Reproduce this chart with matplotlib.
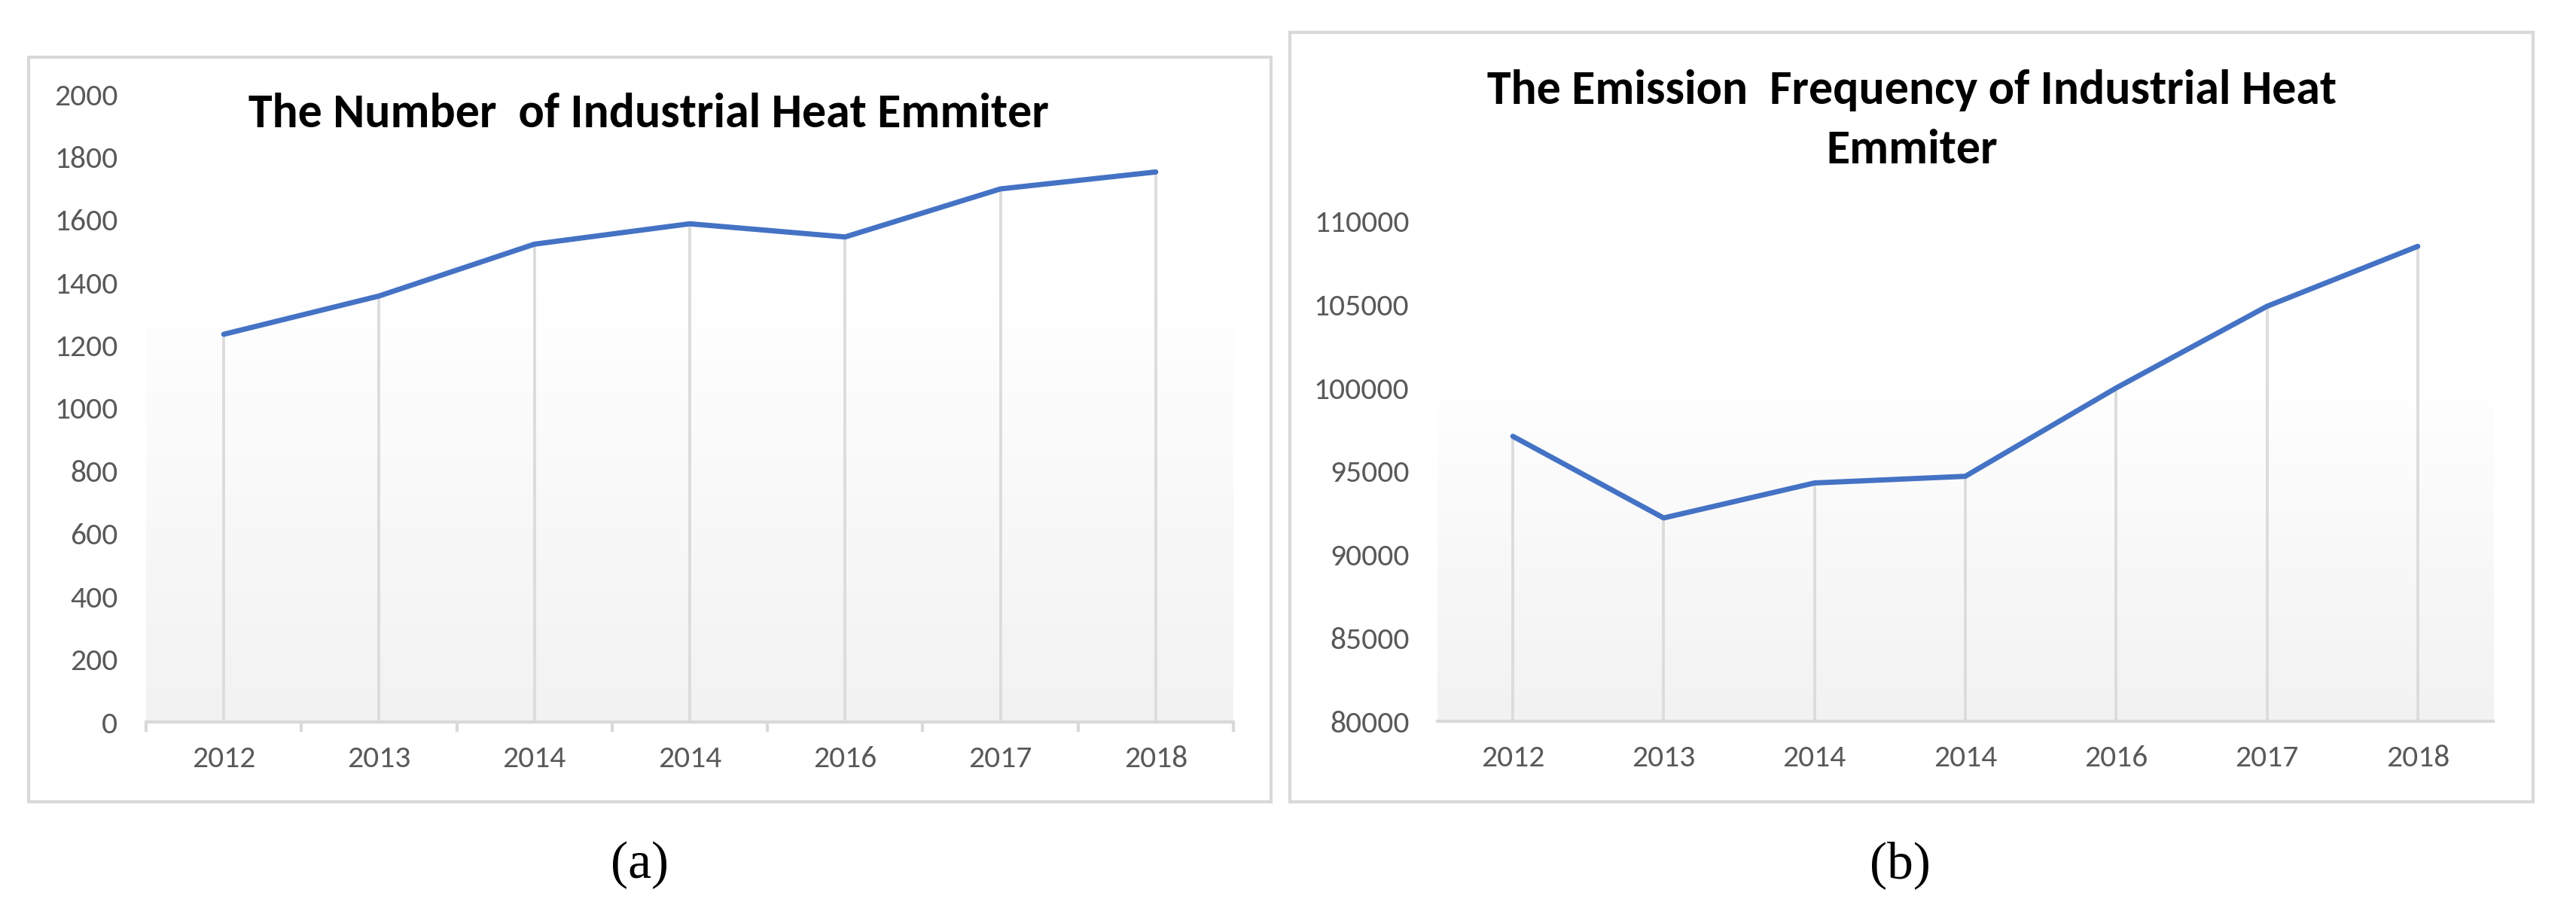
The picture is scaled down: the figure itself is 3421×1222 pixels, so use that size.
import matplotlib
matplotlib.use("Agg")
import matplotlib.pyplot as plt
from matplotlib.patches import Rectangle
from matplotlib.colors import LinearSegmentedColormap
import numpy as np

years = ["2012", "2013", "2014", "2014", "2016", "2017", "2018"]
emitter_count = [1235, 1357, 1522, 1587, 1545, 1698, 1752]
emission_freq = [97100, 92200, 94300, 94700, 100000, 104900, 108500]

left_title = "The Number  of Industrial Heat Emmiter"
right_title = ["The Emission  Frequency of Industrial Heat", "Emmiter"]

W, H = 3421, 1222
BLUE = "#4472C4"
GRID = "#d9d9d9"
TEXT = "#595959"
SANS = ["Carlito", "Roboto Condensed", "Lato", "DejaVu Sans"]
SERIF = ["Liberation Serif", "DejaVu Serif"]

fig = plt.figure(figsize=(W / 100, H / 100), dpi=100)
fig.patch.set_facecolor("white")

grad = LinearSegmentedColormap.from_list("g", ["#f2f2f2", "#ffffff"])


def panel(rect, values, ylim, yticks, ticks_between):
    ax = fig.add_axes(rect)
    x = np.arange(len(values))
    g = np.linspace(0, 1, 256).reshape(-1, 1)
    ax.imshow(g, cmap=grad, origin="lower", aspect="auto",
              extent=(0, 1, 0, 0.68), transform=ax.transAxes, zorder=0)
    ax.vlines(x, ylim[0], values, color="#dcdcdc", lw=2.8, zorder=1)
    ax.plot(x, values, color=BLUE, lw=5, solid_capstyle="round",
            solid_joinstyle="round", zorder=3)
    ax.set_xlim(-0.5, len(values) - 0.5)
    ax.set_ylim(*ylim)
    ax.set_facecolor("none")
    for s in ["top", "right", "left"]:
        ax.spines[s].set_visible(False)
    ax.spines["bottom"].set_color(GRID)
    ax.spines["bottom"].set_linewidth(3)
    ax.set_xticks(x)
    ax.set_xticklabels(years)
    ax.set_yticks(yticks)
    ax.tick_params(axis="y", length=0, pad=27, labelsize=30, labelcolor=TEXT)
    ax.tick_params(axis="x", which="major", length=0, pad=22, labelsize=30,
                   labelcolor=TEXT)
    if ticks_between:
        ax.set_xticks(np.arange(-0.5, len(values)), minor=True)
        ax.tick_params(axis="x", which="minor", length=9.5, width=3,
                       color=GRID)
    for lab in ax.get_xticklabels() + ax.get_yticklabels():
        lab.set_family(SANS)
    return ax


axl = panel([194 / W, 1 - 959 / H, (1638 - 194) / W, (959 - 125) / H],
            emitter_count, (0, 2000), range(0, 2001, 200), True)
axr = panel([1909 / W, 1 - 958 / H, (3311 - 1909) / W, (958 - 294) / H],
            emission_freq, (80000, 110000), range(80000, 110001, 5000), False)

# outer frames
for x0, y0, x1, y1 in [(38, 76, 1688, 1065), (1713, 43, 3364, 1065)]:
    fig.patches.append(Rectangle((x0 / W, 1 - y1 / H), (x1 - x0) / W,
                                 (y1 - y0) / H, transform=fig.transFigure,
                                 fill=False, ec=GRID, lw=3))

fig.text(861 / W, 1 - 169 / H, left_title, ha="center", va="baseline",
         fontsize=46, fontweight="bold", family=SANS)
for line, base in zip(right_title, [138, 217]):
    fig.text(2539 / W, 1 - base / H, line, ha="center", va="baseline",
             fontsize=46, fontweight="bold", family=SANS)

fig.text(849 / W, 1 - 1149 / H, "(a)", ha="center", va="center",
         fontsize=50, family=SERIF)
fig.text(2523 / W, 1 - 1149 / H, "(b)", ha="center", va="center",
         fontsize=50, family=SERIF)

fig.savefig("out.png", dpi=100)
